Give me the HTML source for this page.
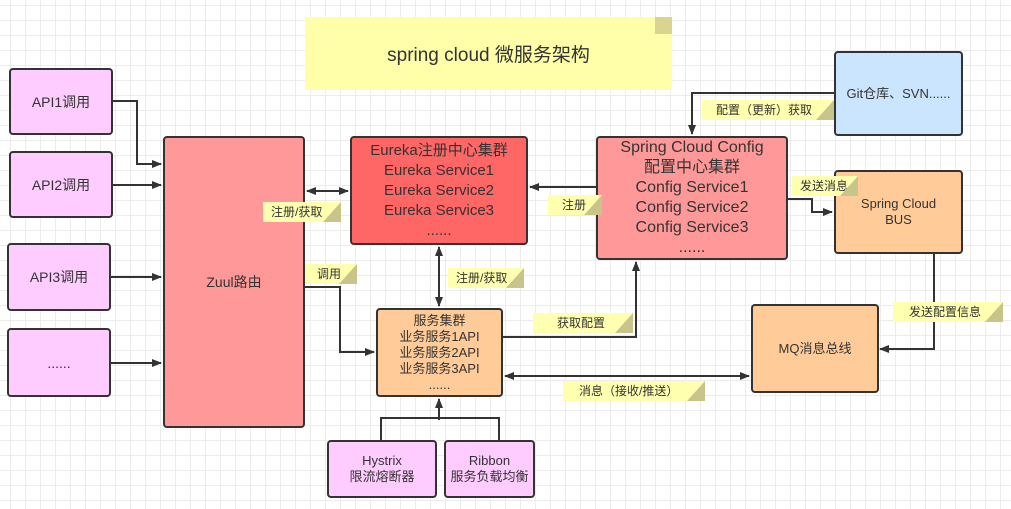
<!DOCTYPE html>
<html><head><meta charset="utf-8"><style>
body{margin:0}
#c{position:relative;width:1011px;height:509px;overflow:hidden;background-color:#fff;
background-image:linear-gradient(#ececec 1px,transparent 1px),linear-gradient(90deg,#ececec 1px,transparent 1px);
background-size:15px 15px;background-position:0 5px,10px 0;
font-family:"Liberation Sans","Noto Sans CJK SC",sans-serif;color:#333}
.b{position:absolute;box-sizing:border-box;border:2px solid #333;border-radius:4px;display:flex;align-items:center;justify-content:center;text-align:center;font-size:14px;line-height:20px}
.pk{background:#ffccff}
.n{position:absolute;background:#ffffb0;font-size:12px;line-height:20px;padding-left:8px;box-sizing:border-box;color:#333}
.n:after{content:"";position:absolute;right:0;top:0;border-style:solid;border-width:0 0 20px 18px;border-color:transparent transparent #c9c48a transparent}
svg{position:absolute;left:0;top:0}
</style></head><body><div id="c">
<div style="position:absolute;left:305px;top:17px;width:367px;height:73px;background:#ffffaa;display:flex;align-items:center;justify-content:center;font-size:19px;color:#333">spring cloud 微服务架构</div>
<div style="position:absolute;left:655px;top:17px;border-style:solid;border-width:0 0 17px 17px;border-color:#fff #fff #d9d48f #d9d48f"></div>

<div class="b pk" style="left:9px;top:68px;width:104px;height:67px">API1调用</div>
<div class="b pk" style="left:9px;top:151px;width:104px;height:67px">API2调用</div>
<div class="b pk" style="left:7px;top:243px;width:104px;height:68px">API3调用</div>
<div class="b pk" style="left:7px;top:328px;width:104px;height:69px">......</div>
<div class="b" style="left:163px;top:136px;width:142px;height:292px;background:#ff9999">Zuul路由</div>
<div class="b" style="left:350px;top:136px;width:178px;height:109px;background:#ff6666;font-size:15px;line-height:20px">Eureka注册中心集群<br>Eureka Service1<br>Eureka Service2<br>Eureka Service3<br>......</div>
<div class="b" style="left:596px;top:136px;width:192px;height:124px;background:#ff9999;font-size:16px;line-height:20px">Spring Cloud Config<br>配置中心集群<br>Config Service1<br>Config Service2<br>Config Service3<br>......</div>
<div class="b" style="left:834px;top:51px;width:129px;height:85px;background:#cce5ff;font-size:13px">Git仓库、SVN......</div>
<div class="b" style="left:834px;top:170px;width:129px;height:84px;background:#ffcc99;font-size:13px;line-height:16px">Spring Cloud<br>BUS</div>
<div class="b" style="left:751px;top:304px;width:128px;height:89px;background:#ffcc99;font-size:13px">MQ消息总线</div>
<div class="b" style="left:376px;top:308px;width:127px;height:89px;background:#ffcc99;font-size:13px;line-height:16px">服务集群<br>业务服务1API<br>业务服务2API<br>业务服务3API<br>......</div>
<div class="b pk" style="left:327px;top:440px;width:110px;height:58px;font-size:13px;line-height:16px">Hystrix<br>限流熔断器</div>
<div class="b pk" style="left:444px;top:440px;width:91px;height:58px;font-size:13px;line-height:16px">Ribbon<br>服务负载均衡</div>

<svg width="1011" height="509">
<defs><marker id="a" markerWidth="10" markerHeight="8" refX="9" refY="4" orient="auto-start-reverse" markerUnits="userSpaceOnUse"><path d="M0,0L10,4L0,8z" fill="#333"/></marker></defs>
<g fill="none" stroke="#333" stroke-width="2">
<path d="M113,101H137V164H161" marker-end="url(#a)"/>
<path d="M113,185H161" marker-end="url(#a)"/>
<path d="M111,277H161" marker-end="url(#a)"/>
<path d="M111,363H161" marker-end="url(#a)"/>
<path d="M307,191H348" marker-start="url(#a)" marker-end="url(#a)"/>
<path d="M439,247V306" marker-start="url(#a)" marker-end="url(#a)"/>
<path d="M305,287H340V352H374" marker-end="url(#a)"/>
<path d="M596,187H530" marker-end="url(#a)"/>
<path d="M834,93H692V134" marker-end="url(#a)"/>
<path d="M788,199H812V212H832" marker-end="url(#a)"/>
<path d="M934,254V349H880" marker-end="url(#a)"/>
<path d="M503,337H636V262" marker-end="url(#a)"/>
<path d="M505,376H749" marker-start="url(#a)" marker-end="url(#a)"/>
<path d="M381,440V418H499V440M439,418V399" />
<path d="M439,420V399" marker-end="url(#a)"/>
</g></svg>

<div class="n" style="left:263px;top:202px;width:78px">注册/获取</div>
<div class="n" style="left:448px;top:268px;width:76px">注册/获取</div>
<div class="n" style="left:305px;top:264px;width:52px;padding-left:12px">调用</div>
<div class="n" style="left:548px;top:195px;width:54px;padding-left:14px">注册</div>
<div class="n" style="left:702px;top:100px;width:132px;padding-left:14px">配置（更新）获取</div>
<div class="n" style="left:792px;top:176px;width:66px">发送消息</div>
<div class="n" style="left:893px;top:302px;width:110px;padding-left:16px">发送配置信息</div>
<div class="n" style="left:533px;top:313px;width:100px;padding-left:24px">获取配置</div>
<div class="n" style="left:563px;top:381px;width:142px;padding-left:16px">消息（接收/推送）</div>
</div></body></html>
